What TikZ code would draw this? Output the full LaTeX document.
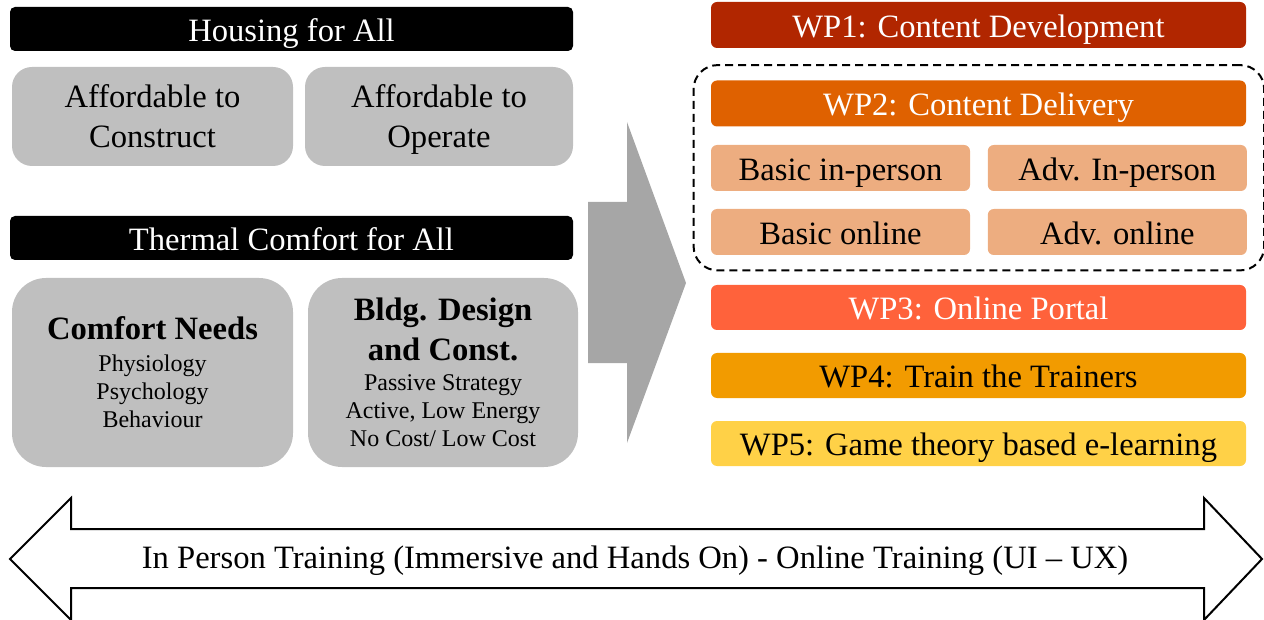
\documentclass[tikz,border=0pt]{standalone}
\usepackage{fontspec}
\setmainfont{Liberation Serif}
\usetikzlibrary{positioning, fit}

\definecolor{boxgray}{HTML}{BFBFBF}
\definecolor{arrowgray}{HTML}{A6A6A6}
\definecolor{wpone}{HTML}{B12600}
\definecolor{wptwo}{HTML}{DF6100}
\definecolor{wpsub}{HTML}{EDAD80}
\definecolor{wpthree}{HTML}{FF623B}
\definecolor{wpfour}{HTML}{F29B00}
\definecolor{wpfive}{HTML}{FFD147}

% smaller lines under the bold headings
\newcommand{\detailfont}{\fontsize{12}{14}\selectfont}

\begin{document}
\begin{tikzpicture}[x=0.5pt, y=-0.5pt, font=\fontsize{16.3}{20}\selectfont,
    band/.style={fill=black, text=white, rounded corners=2.5pt, minimum width=281.5pt, minimum height=22pt, inner sep=0pt, text height=12.5pt, text depth=0pt},
    graybox/.style={fill=boxgray, align=center, inner sep=0pt, text depth=0pt},
    wpbar/.style={rounded corners=3pt, minimum width=267.5pt, minimum height=23pt, inner sep=0pt, text height=12.3pt, text depth=0pt},
    wpcell/.style={fill=wpsub, rounded corners=3pt, minimum width=129.5pt, minimum height=23pt, inner sep=0pt, text height=12.3pt, text depth=0pt}]
    \useasboundingbox (0,0) rectangle (1264,620);

    % left column: housing and thermal comfort
    \node[band] (housing) at (291.5,29) {Housing for All};
    \node[graybox, rounded corners=10pt, minimum width=140.5pt, minimum height=49.5pt] (construct) at (152.5,116.5) {Affordable to\\Construct};
    \node[graybox, rounded corners=10pt, minimum width=134pt, minimum height=49.5pt] (operate) at (439,116.5) {Affordable to\\Operate};
    \node[band] (thermal) at (291.5,238) {Thermal Comfort for All};
    \node[graybox, text depth=-2pt, rounded corners=17pt, minimum width=140.5pt, minimum height=94.5pt] (needs) at (152.5,372.5)
        {\textbf{Comfort Needs}\\[-4pt]\detailfont Physiology\\[-6pt]\detailfont Psychology\\[-6pt]\detailfont Behaviour};
    \node[graybox, text depth=-2pt, rounded corners=17pt, minimum width=135pt, minimum height=94.5pt] (design) at (443,372.5)
        {\textbf{Bldg. Design}\\\textbf{and Const.}\\[-5pt]\detailfont Passive Strategy\\[-6pt]\detailfont Active, Low Energy\\[-6pt]\detailfont No Cost/ Low Cost};

    % big arrow in the middle
    \fill[arrowgray] (588,202) -- (627,202) -- (627,122) -- (686,283) -- (627,443) -- (627,363) -- (588,363) -- cycle;

    % right column: work packages
    \node[wpbar, fill=wpone, text=white] (wp1) at (978.5,25) {WP1: Content Development};
    \node[wpbar, fill=wptwo, text=white] (wp2) at (978.5,103.5) {WP2: Content Delivery};
    \node[wpcell] (basicin) at (840.5,168) {Basic in-person};
    \node[wpcell, right=8.5pt of basicin] (advin) {Adv. In-person};
    \node[wpcell] (basicon) at (840.5,232) {Basic online};
    \node[wpcell, right=8.5pt of basicon] (advon) {Adv. online};
    \node[draw, dashed, line width=1pt, dash pattern=on 4pt off 2.5pt, rounded corners=12pt,
          inner xsep=8.5pt, inner ysep=7.5pt, fit=(wp2)(advon)] (delivery) {};
    \node[wpbar, fill=wpthree, text=white, minimum height=22.5pt] (wp3) at (978.5,307.5) {WP3: Online Portal};
    \node[wpbar, fill=wpfour, minimum height=22.5pt] (wp4) at (978.5,375.5) {WP4: Train the Trainers};
    \node[wpbar, fill=wpfive, minimum height=22.5pt] (wp5) at (978.5,443.5) {WP5: Game theory based e-learning};

    % double arrow along the bottom
    \draw[line width=1pt, fill=white] (10,559) -- (71,498) -- (71,529) -- (1204,529) -- (1204,498) -- (1262,559)
        -- (1204,620) -- (1204,588) -- (71,588) -- (71,620) -- cycle;
    \node (span) at (635,561) {In Person Training (Immersive and Hands On) - Online Training (UI – UX)};
\end{tikzpicture}
\end{document}
